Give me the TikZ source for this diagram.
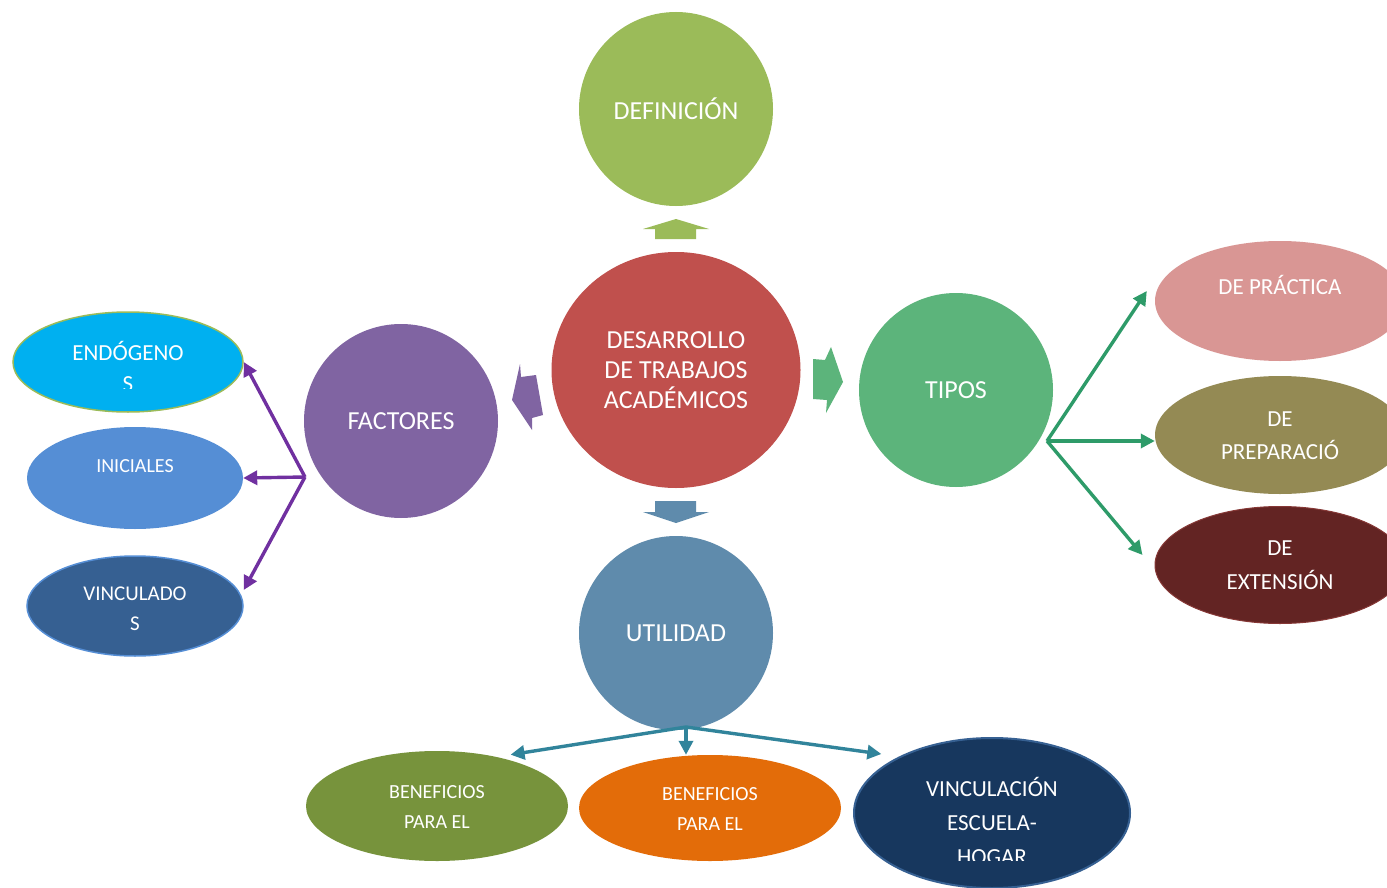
\documentclass[tikz,border=0pt]{standalone}
\usepackage{fontspec}
\setmainfont{Carlito}
\usetikzlibrary{arrows.meta,shapes.geometric}

\definecolor{defgreen}{HTML}{9BBB59}
\definecolor{corered}{HTML}{C0504D}
\definecolor{tiposgreen}{HTML}{5CB47B}
\definecolor{factpurple}{HTML}{8064A2}
\definecolor{utilblue}{HTML}{5F8BAC}
\definecolor{endocyan}{HTML}{00B0F0}
\definecolor{iniblue}{HTML}{558ED5}
\definecolor{vincblue}{HTML}{366092}
\definecolor{pracpink}{HTML}{D99694}
\definecolor{prepolive}{HTML}{948A54}
\definecolor{extbrown}{HTML}{632423}
\definecolor{benolive}{HTML}{77933C}
\definecolor{benorange}{HTML}{E36C09}
\definecolor{escnavy}{HTML}{17375E}
\definecolor{linepurple}{HTML}{7030A0}
\definecolor{linegreen}{HTML}{2E9B69}
\definecolor{lineteal}{HTML}{31849B}

\tikzset{
  topic/.style={circle, minimum size=194pt, inner sep=0pt, text=white,
    align=center, font=\fontsize{26}{30}\selectfont},
  leaf/.style={ellipse, inner sep=0pt},
  leaftext/.style={text=white, align=center, inner sep=0pt},
  branch/.style={line width=3.4pt, -{Triangle[length=14pt,width=14pt]}},
}

\begin{document}
\begin{tikzpicture}[x=1pt,y=-1pt]
\useasboundingbox (0,0) rectangle (1387,888);
\fill[white] (0,0) rectangle (1387,888);

% centre and the four topics
\node[ellipse, minimum width=249pt, minimum height=236pt, inner sep=0pt,
  fill=corered, text=white, align=center, font=\fontsize{26}{30}\selectfont]
  (core) at (676,370) {DESARROLLO\\DE TRABAJOS\\ACADÉMICOS};
\node[topic, fill=defgreen] (def) at (676,109) {DEFINICIÓN};
\node[topic, fill=tiposgreen] (tipos) at (956,390) {TIPOS};
\node[topic, fill=factpurple] (fact) at (401,421) {FACTORES};
\node[topic, fill=utilblue] (util) at (676,633) {UTILIDAD};

% block arrows
\fill[defgreen] (655,239) -- (655,229) -- (643,229) -- (676,219) -- (709,229)
  -- (696,229) -- (696,239) -- cycle;
\fill[utilblue] (655,501) -- (696,501) -- (696,512) -- (709,512) -- (676,523)
  -- (643,512) -- (655,512) -- cycle;
\fill[tiposgreen] (813,359) -- (825,360) -- (831,347) -- (843,382) -- (826,413)
  -- (827,400) -- (813,399) -- cycle;
\fill[factpurple] (536,375) -- (521,377) -- (520,364) -- (512,400) -- (532,430)
  -- (532,418) -- (543,415) -- cycle;

% factores
\node[leaf, fill=endocyan, draw=defgreen, line width=1.5pt,
  minimum width=230pt, minimum height=100pt] (endo) at (128,362) {};
\begin{scope}
  \clip (0,300) rectangle (260,388);
  \node[leaftext, font=\fontsize{23}{31}\selectfont] (endo-t) at (128,366) {ENDÓGENO\\S};
\end{scope}
\node[leaf, fill=iniblue, minimum width=216pt, minimum height=102pt] (ini) at (135,478) {};
\node[leaftext, font=\fontsize{20}{30}\selectfont] (ini-t) at (135,466) {INICIALES};
\node[leaf, fill=vincblue, draw=iniblue, line width=1.5pt,
  minimum width=216pt, minimum height=100pt] (vinc) at (135,606) {};
\node[leaftext, font=\fontsize{21}{30}\selectfont] (vinc-t) at (135,609) {VINCULADO\\S};

\coordinate (fhub) at (305,477);
\draw[branch, linepurple] (fhub) -- (endo.east);
\draw[branch, linepurple] (fhub) -- (ini.east);
\draw[branch, linepurple] (fhub) -- ([yshift=16pt]vinc.east);

% tipos
\node[leaf, fill=pracpink, minimum width=250pt, minimum height=120pt] (prac) at (1280,301) {};
\node[leaftext, font=\fontsize{23}{33}\selectfont] (prac-t) at (1280,285) {DE PRÁCTICA};
\node[leaf, fill=prepolive, minimum width=250pt, minimum height=118pt] (prep) at (1280,435) {};
\node[leaftext, font=\fontsize{23}{33}\selectfont] (prep-t) at (1280,436) {DE\\PREPARACIÓ};
\node[leaf, fill=extbrown, draw=corered!70!black, line width=1pt,
  minimum width=250pt, minimum height=117pt] (ext) at (1280,565) {};
\node[leaftext, font=\fontsize{23}{34}\selectfont] (ext-t) at (1280,565) {DE\\EXTENSIÓN};

\coordinate (thub) at (1047,441);
\draw[branch, linegreen] (thub) -- ([xshift=-8pt,yshift=10pt]prac.west);
\draw[branch, linegreen] (thub) -- (thub -| prep.west);
\draw[branch, linegreen] (thub) -- ([xshift=-12pt,yshift=10pt]ext.west);

% utilidad
\node[leaf, fill=benolive, minimum width=262pt, minimum height=110pt] (ben1) at (437,806) {};
\node[leaftext, font=\fontsize{20}{30}\selectfont] (ben1-t) at (437,807) {BENEFICIOS\\PARA EL};
\node[leaf, fill=benorange, minimum width=262pt, minimum height=106pt] (ben2) at (710,808) {};
\node[leaftext, font=\fontsize{20}{30}\selectfont] (ben2-t) at (710,809) {BENEFICIOS\\PARA EL};
\node[leaf, fill=escnavy, draw=vincblue, line width=2pt,
  minimum width=276pt, minimum height=150pt] (esc) at (992,813) {};
\begin{scope}
  \clip (850,740) rectangle (1140,860);
  \node[leaftext, font=\fontsize{23}{34}\selectfont] (esc-t) at (992,821)
    {VINCULACIÓN\\ESCUELA-\\HOGAR};
\end{scope}

\coordinate (uhub) at (686,727);
\draw[branch, lineteal] (uhub) -- ([xshift=6pt,yshift=4pt]ben1.35);
\draw[branch, lineteal] (uhub) -- (uhub |- ben2.north);
\draw[branch, lineteal] (uhub) -- ([xshift=-11pt,yshift=6pt]esc.152);
\end{tikzpicture}
\end{document}
